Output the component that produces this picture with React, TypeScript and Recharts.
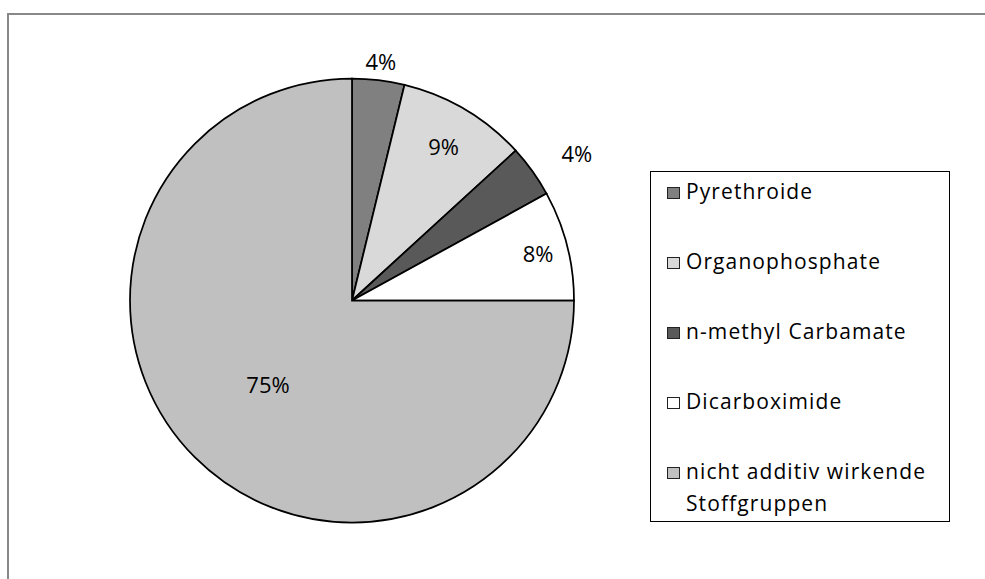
import React from 'react';
import { PieChart, Pie, Cell, Legend } from 'recharts';

const categories = [
  'Pyrethroide',
  'Organophosphate',
  'n-methyl Carbamate',
  'Dicarboximide',
  'nicht additiv wirkende Stoffgruppen',
];
const shares = [3.8, 9.4, 3.8, 8.0, 75.0];
const colors = ['#808080', '#d9d9d9', '#595959', '#ffffff', '#c0c0c0'];

const data = categories.map((name, i) => ({ name, value: shares[i], fill: colors[i] }));

const FONT = '"Open Sans", "Noto Sans", sans-serif';
const RAD = Math.PI / 180;

function renderLabel(props: any) {
  const { cx, cy, midAngle, outerRadius, percent } = props;
  const c = Math.cos(midAngle * RAD);
  const s = Math.sin(midAngle * RAD);
  let r: number;
  let dy = 0;
  if (percent < 0.05) {
    r = outerRadius + 14 + 50 * Math.abs(c);
    dy = 20 * c * c;
  } else if (percent > 0.5) {
    r = outerRadius * 0.535;
  } else {
    r = outerRadius * (0.749 + 0.12 * Math.abs(c));
  }
  const x = cx + r * c;
  const y = cy - r * s + dy;
  return (
    <text
      x={x}
      y={y}
      textAnchor="middle"
      dominantBaseline="central"
      fontFamily={FONT}
      fontSize={22}
      fill="#000"
    >
      {`${Math.round(percent * 100)}%`}
    </text>
  );
}

function renderLegend(props: any) {
  const payload = props.payload || [];
  return (
    <div
      style={{
        boxSizing: 'border-box',
        width: 300,
        height: 351,
        border: '1.5px solid #000',
        background: '#fff',
        paddingTop: 3,
        paddingLeft: 16,
        fontFamily: FONT,
        fontSize: 21,
        letterSpacing: 1.1,
        color: '#000',
        textAlign: 'left',
      }}
    >
      {payload.map((p: any, i: number) => {
        const idx = categories.indexOf(p.value);
        return (
          <div
            key={i}
            style={{ display: 'flex', alignItems: 'flex-start', lineHeight: '32px', marginBottom: 38 }}
          >
            <span
              style={{
                flex: 'none',
                width: 13,
                height: 12,
                boxSizing: 'border-box',
                border: '1.5px solid #222',
                background: colors[idx >= 0 ? idx : i],
                marginTop: 12,
                marginRight: 6,
              }}
            />
            <span style={{ width: 258 }}>{p.value}</span>
          </div>
        );
      })}
    </div>
  );
}

export default function App() {
  return (
    <div
      style={{
        position: 'absolute',
        left: 0,
        top: 0,
        width: 985,
        height: 579,
        overflow: 'hidden',
        background: '#fff',
      }}
    >
      <div
        style={{
          position: 'absolute',
          left: 7,
          top: 13,
          width: 1200,
          height: 800,
          borderLeft: '2px solid #888',
          borderTop: '2px solid #888',
        }}
      />
      <div style={{ position: 'absolute', left: 0, top: 0 }}>
        <PieChart width={985} height={579} margin={{ top: 0, right: 0, bottom: 0, left: 0 }}>
          <Pie
            data={data}
            dataKey="value"
            nameKey="name"
            cx={352}
            cy={300.5}
            outerRadius={222}
            startAngle={90}
            endAngle={-270}
            stroke="#000"
            strokeWidth={1.75}
            label={renderLabel}
            labelLine={false}
            isAnimationActive={false}
          >
            {data.map((d, i) => (
              <Cell key={i} fill={colors[i]} />
            ))}
          </Pie>
          <Legend
            layout="vertical"
            align="center"
            verticalAlign="middle"
            itemSorter={(item: any) => categories.indexOf(item.value)}
            content={renderLegend}
            wrapperStyle={{ position: 'absolute', left: 650, top: 171, width: 300, height: 351 }}
          />
        </PieChart>
      </div>
    </div>
  );
}
